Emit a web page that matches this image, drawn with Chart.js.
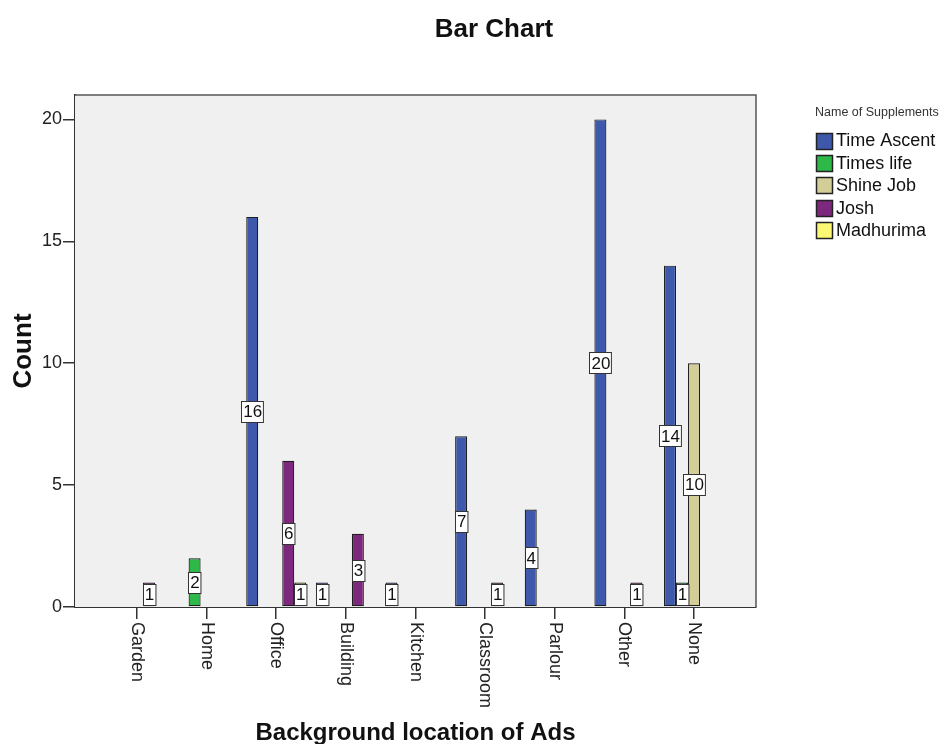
<!DOCTYPE html>
<html>
<head>
<meta charset="utf-8">
<script src="https://cdn.jsdelivr.net/npm/chart.js@4/dist/chart.umd.min.js"></script>
<style>
  html, body { margin: 0; padding: 0; background: #ffffff; }
  canvas { display: block; }
</style>
</head>
<body>
<canvas id="chart" width="939" height="744"></canvas>
<script>
// Categories along the horizontal axis
const locations = ['Garden', 'Home', 'Office', 'Building', 'Kitchen', 'Classroom', 'Parlour', 'Other', 'None'];

// Counts per supplement (null = no bar for that location)
const timeAscent = [null, null, 16, 1, 1, 7, 4, 20, 14];
const timesLife  = [null, 2, null, null, null, null, null, null, 1];
const shineJob   = [null, null, null, null, null, null, null, null, 10];
const josh       = [1, null, 6, 3, null, 1, null, 1, null];
const madhurima  = [null, null, 1, null, null, null, null, null, null];

// Series names and fill colours
const seriesNames  = ['Time Ascent', 'Times life', 'Shine Job', 'Josh', 'Madhurima'];
const seriesColors = ['#3e58ac', '#2eb848', '#d3ce97', '#7c287d', '#fbf873'];
const seriesValues = [timeAscent, timesLife, shineJob, josh, madhurima];

// Value-axis tick labels
const countTicks = [0, 5, 10, 15, 20];

const FONT = "'Liberation Sans', Arial, Helvetica, sans-serif";

const datasets = seriesValues.map((vals, s) => ({
  label: seriesNames[s],
  data: vals.map((v, i) => ({ x: i, y: v })),
  backgroundColor: seriesColors[s],
  borderColor: '#1e1e1e',
  borderWidth: 1.2,
  borderSkipped: false,
  categoryPercentage: 0.862,
  barPercentage: 1.0
}));

// Panel background, frame, value boxes, rotated category names, title and legend
const decorations = {
  id: 'decorations',
  beforeDatasetsDraw(chart) {
    const { ctx, chartArea: a } = chart;
    ctx.save();
    ctx.fillStyle = '#f0f0f0';
    ctx.fillRect(a.left, a.top, a.right - a.left, a.bottom - a.top);
    ctx.restore();
  },
  afterDatasetsDraw(chart) {
    const { ctx, chartArea: a } = chart;
    ctx.save();
    // top and right edges of the panel
    ctx.strokeStyle = '#555555';
    ctx.lineWidth = 1.5;
    ctx.beginPath();
    ctx.moveTo(a.left, a.top);
    ctx.lineTo(a.right, a.top);
    ctx.lineTo(a.right, a.bottom);
    ctx.stroke();

    // value boxes centred on each bar
    ctx.font = '17px ' + FONT;
    ctx.textAlign = 'center';
    ctx.textBaseline = 'middle';
    chart.data.datasets.forEach((ds, di) => {
      const meta = chart.getDatasetMeta(di);
      meta.data.forEach((el, i) => {
        const v = seriesValues[di][i];
        if (v === null || v === undefined) return;
        const txt = String(v);
        const w = ctx.measureText(txt).width + 3;
        const h = 21;
        let cy = (el.y + el.base) / 2;
        if (cy + h / 2 > a.bottom) cy = a.bottom - h / 2;
        const x0 = Math.round(el.x - w / 2) + 0.5;
        const y0 = Math.round(cy - h / 2) + 0.5;
        ctx.fillStyle = '#ffffff';
        ctx.fillRect(x0, y0, w, h);
        ctx.strokeStyle = '#333333';
        ctx.lineWidth = 1;
        ctx.strokeRect(x0, y0, w, h);
        ctx.fillStyle = '#111111';
        ctx.fillText(txt, el.x + 0.5, cy + 1);
      });
    });
    ctx.restore();
  },
  afterDraw(chart) {
    const { ctx, chartArea: a } = chart;
    const xs = chart.scales.x;
    ctx.save();
    // category names, rotated clockwise below each tick
    ctx.font = '18px ' + FONT;
    ctx.fillStyle = '#222222';
    ctx.textAlign = 'left';
    ctx.textBaseline = 'middle';
    locations.forEach((name, i) => {
      const px = xs.getPixelForValue(i);
      ctx.save();
      ctx.translate(px, a.bottom + 15);
      ctx.rotate(Math.PI / 2);
      ctx.fillText(name, 0, 0);
      ctx.restore();
    });

    // chart title
    ctx.font = 'bold 26px ' + FONT;
    ctx.fillStyle = '#111111';
    ctx.textAlign = 'center';
    ctx.textBaseline = 'middle';
    ctx.fillText('Bar Chart', 494, 30);

    // legend
    ctx.textAlign = 'left';
    ctx.font = '12.5px ' + FONT;
    ctx.fillStyle = '#333333';
    ctx.fillText('Name of Supplements', 815, 113);
    ctx.font = '18px ' + FONT;
    seriesNames.forEach((name, s) => {
      const cy = 140.5 + s * 22.35;
      ctx.fillStyle = seriesColors[s];
      ctx.fillRect(816.5, Math.round(cy - 8) + 0.5, 16, 16);
      ctx.strokeStyle = '#222222';
      ctx.lineWidth = 1.5;
      ctx.strokeRect(816.5, Math.round(cy - 8) + 0.5, 16, 16);
      ctx.fillStyle = '#111111';
      ctx.fillText(name, 836, cy + 1);
    });
    ctx.restore();
  }
};

new Chart(document.getElementById('chart'), {
  type: 'bar',
  data: { datasets },
  options: {
    responsive: false,
    animation: false,
    layout: { padding: { top: 95, right: 183, left: 0, bottom: 0 } },
    plugins: {
      legend: { display: false },
      title: { display: false },
      tooltip: { enabled: false }
    },
    scales: {
      x: {
        type: 'linear',
        min: -0.89,
        max: 8.89,
        offset: false,
        afterBuildTicks: (s) => { s.ticks = locations.map((_, i) => ({ value: i })); },
        afterFit: (s) => { s.height = 137; },
        ticks: { display: false },
        grid: {
          offset: false,
          drawOnChartArea: false,
          drawTicks: true,
          tickLength: 12,
          color: '#333333',
          lineWidth: 1.5
        },
        border: { display: true, color: '#333333', width: 2 },
        title: {
          display: true,
          text: 'Background location of Ads',
          font: { family: FONT, size: 24, weight: 'bold' },
          color: '#111111',
          padding: { top: 0, bottom: -4 }
        }
      },
      y: {
        min: 0,
        max: 21,
        afterBuildTicks: (s) => { s.ticks = countTicks.map(v => ({ value: v })); },
        afterFit: (s) => { s.width = 75; },
        ticks: {
          font: { family: FONT, size: 18 },
          color: '#222222',
          padding: 1
        },
        grid: {
          drawOnChartArea: false,
          drawTicks: true,
          tickLength: 12,
          color: '#333333',
          lineWidth: 1.5
        },
        border: { display: true, color: '#333333', width: 2 },
        title: {
          display: true,
          text: 'Count',
          font: { family: FONT, size: 26, weight: 'bold' },
          color: '#111111',
          padding: { top: 8, bottom: 0 }
        }
      }
    }
  },
  plugins: [decorations]
});
</script>
</body>
</html>
